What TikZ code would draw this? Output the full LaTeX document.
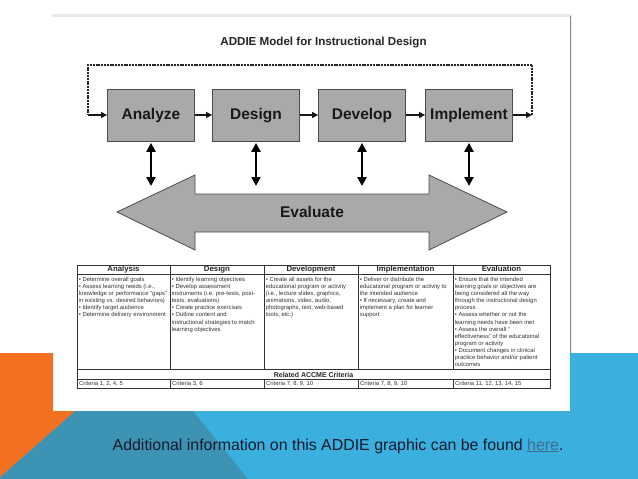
\documentclass[tikz,border=0pt]{standalone}
\usepackage{fontspec}
\setmainfont{Liberation Sans}
\usetikzlibrary{arrows.meta}
\definecolor{orangeC}{HTML}{F37021}
\definecolor{tealC}{HTML}{3D93B3}
\definecolor{blueC}{HTML}{3BAFDD}
\definecolor{navyC}{HTML}{161A2C}
\definecolor{linkC}{HTML}{3E6E8C}
\definecolor{boxC}{HTML}{A9A9A9}
\tikzset{
 stage/.style={draw=black!70, fill=boxC, line width=0.8pt, minimum width=87pt, minimum height=52pt, inner sep=0pt, text height=11.2pt, text depth=3.2pt, font=\fontsize{15.5}{18}\selectfont\bfseries, text=black!90},
 flow/.style={-{Triangle[length=6pt,width=6pt]}, line width=1.3pt, black!90},
 loopline/.style={line width=1.6pt, dash pattern=on 2pt off 0.8pt, black!85},
 dbl/.style={{Triangle[length=9pt,width=9pt]}-{Triangle[length=9pt,width=9pt]}, line width=2.4pt, black},
 hdr/.style={font=\fontsize{7.8}{9}\selectfont\bfseries, inner sep=0pt, text height=5.6pt, text depth=1.6pt, text=black!85},
 body/.style={font=\fontsize{5.9}{7.15}\selectfont, inner sep=0pt, align=left, anchor=north west, text=black!80},
 crit/.style={font=\fontsize{5.9}{7}\selectfont, inner sep=0pt, anchor=west, text=black!80},
 gridline/.style={draw=black!80, line width=0.8pt}
}
\begin{document}
\begin{tikzpicture}[x=1pt,y=-1pt]
\useasboundingbox (0,0) rectangle (638,479);
\fill[white] (0,0) rectangle (638,479);
% frame
\fill[black!9] (52,14) rectangle (572,411);
\fill[white] (52,17) rectangle (570,411);
\draw[black!45, line width=0.8pt] (570.6,16) -- (570.6,411);
% background shapes
\fill[blueC] (0,411) rectangle (638,479);
\fill[blueC] (570,353) rectangle (638,411);
\fill[tealC] (75,411) -- (193,411) -- (248,479) -- (0,479) -- (0,477) -- cycle;
\fill[orangeC] (0,353) -- (53,353) -- (53,411) -- (75,411) -- (0,477) -- cycle;

% title
\node[font=\fontsize{11.6}{13}\selectfont\bfseries, text=black!85] (title) at (323.5,43) {ADDIE Model for Instructional Design};

% stages
\node[stage] (an) at (151,115) {Analyze};
\node[stage] (de) at (256,115) {Design};
\node[stage] (dv) at (362,115) {Develop};
\node[stage] (im) at (469,115) {Implement};
\draw[flow] (an) -- (de);
\draw[flow] (de) -- (dv);
\draw[flow] (dv) -- (im);

% feedback loop
\coordinate (rx) at (532,65);
\coordinate (lx) at (88,65);
\draw[flow] (im.east) -- (im.east -| rx);
\draw[loopline] (im.east -| rx) -- (rx) -- (lx) -- (an.west -| lx);
\draw[flow] (an.west -| lx) -- (an.west);

% evaluate arrow
\draw[fill=boxC, draw=black!70, line width=0.8pt] (117,212) -- (195,175) -- (195,194) -- (429,194) -- (429,175) -- (507,212) -- (429,250) -- (429,232) -- (195,232) -- (195,250) -- cycle;
\node[font=\fontsize{15.5}{18}\selectfont\bfseries, text=black!90, text height=11.2pt, text depth=3.2pt] (ev) at (312,213) {Evaluate};
\coordinate (evtop) at (0,186);
\draw[dbl] ([yshift=-1.5pt]an.south) -- (an.south |- evtop);
\draw[dbl] ([yshift=-1.5pt]de.south) -- (de.south |- evtop);
\draw[dbl] ([yshift=-1.5pt]dv.south) -- (dv.south |- evtop);
\draw[dbl] ([yshift=-1.5pt]im.south) -- (im.south |- evtop);

% table
\draw[gridline] (77,265) rectangle (550,388);
\draw[gridline] (77,274) -- (550,274);
\draw[gridline] (77,369.5) -- (550,369.5);
\draw[gridline] (77,379.5) -- (550,379.5);
\foreach \cx in {170,264,358,453}{
  \draw[gridline] (\cx,265) -- (\cx,369.5);
  \draw[gridline] (\cx,379.5) -- (\cx,388);
}
\node[hdr] (h1) at (123.5,269.6) {Analysis};
\node[hdr] (h2) at (217,269.6) {Design};
\node[hdr] (h3) at (311,269.6) {Development};
\node[hdr] (h4) at (405.5,269.6) {Implementation};
\node[hdr] (h5) at (501.5,269.6) {Evaluation};

\node[body] (b1) at (78.6,276.7) {• Determine overall goals\\• Assess learning needs (i.e.,\\knowledge or performance “gaps”\\in existing vs. desired behaviors)\\• Identify target audience\\• Determine delivery environment};
\node[body] (b2) at (171.6,276.7) {• Identify learning objectives\\• Develop assessment\\instruments (i.e. pre-tests, post-\\tests, evaluations)\\• Create practice exercises\\• Outline content and\\instructional strategies to match\\learning objectives};
\node[body] (b3) at (265.6,276.7) {• Create all assets for the\\educational program or activity\\(i.e., lecture slides, graphics,\\animations, video, audio,\\photographs, text, web-based\\tools, etc.)};
\node[body] (b4) at (359.6,276.7) {• Deliver or distribute the\\educational program or activity to\\the intended audience\\• If necessary, create and\\implement a plan for learner\\support};
\node[body] (b5) at (454.6,276.7) {• Ensure that the intended\\learning goals or objectives are\\being considered all the way\\through the instructional design\\process\\• Assess whether or not the\\learning needs have been met\\• Assess the overall “\\effectiveness” of the educational\\program or activity\\• Document changes in clinical\\practice behavior and/or patient\\outcomes};

\node[font=\fontsize{7}{8}\selectfont\bfseries, inner sep=0pt, text=black!85] (rel) at (313.5,374.6) {Related ACCME Criteria};
\node[crit] (c1) at (79,384) {Criteria 1, 2, 4, 5};
\node[crit] (c2) at (172,384) {Criteria 3, 6};
\node[crit] (c3) at (266,384) {Criteria 7, 8, 9, 10};
\node[crit] (c4) at (360,384) {Criteria 7, 8, 9, 10};
\node[crit] (c5) at (455,384) {Criteria 11, 12, 13, 14, 15};

% caption
\node[anchor=base west, inner sep=0pt, font=\fontsize{15.9}{18}\selectfont, text=navyC] (info) at (112.5,450) {Additional information on this ADDIE graphic can be found \textcolor{linkC}{\underline{here}}.};
\end{tikzpicture}
\end{document}
